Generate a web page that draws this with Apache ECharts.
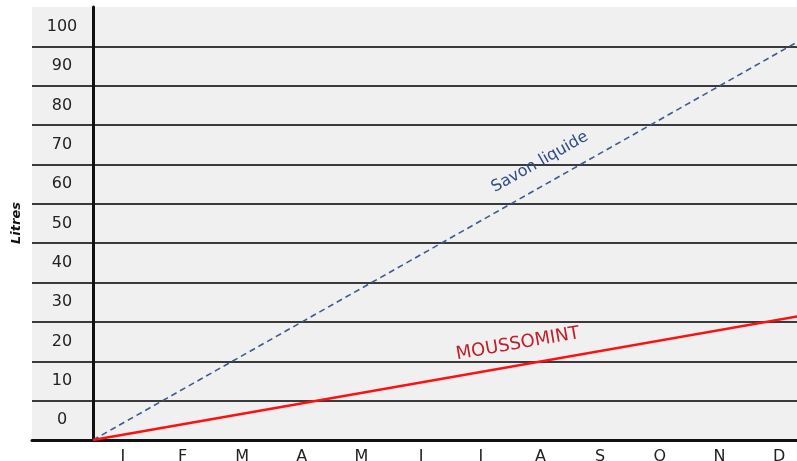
<!DOCTYPE html>
<html>
<head>
<meta charset="utf-8">
<script src="https://cdn.jsdelivr.net/npm/echarts@6/dist/echarts.min.js"></script>
<style>
  html, body { margin: 0; padding: 0; background: #fff; }
  #chart { width: 797px; height: 461px; }
</style>
</head>
<body>
<div id="chart"></div>
<script>
// data
var months = ['J', 'F', 'M', 'A', 'M', 'J', 'J', 'A', 'S', 'O', 'N', 'D']
var yLabels = ['0', '10', '20', '30', '40', '50', '60', '70', '80', '90', '100']
// [month position, litres] from start of January to end of December
var savonLiquide = [[0, 0], [12, 102.8]]
var moussomint = [[0, 0], [12, 31.9]]

var chart = echarts.init(document.getElementById('chart'))
var font = 'DejaVu Sans'

var option = {
    animation: false,
    grid: [
        // background and long gridlines
        { left: 32, right: 0, top: 7, bottom: 21, outerBoundsMode: 'none', containLabel: false,
          show: true, backgroundColor: '#f0f0f0', borderWidth: 0 },
        // plot area (runs past the right edge, December is cut)
        { left: 93, width: 716, top: 7, bottom: 21, outerBoundsMode: 'none', containLabel: false }
    ],
    xAxis: [
        {
            gridIndex: 0, type: 'value', min: 0, max: 1,
            axisLine: { show: true, lineStyle: { color: '#111', width: 3 } },
            axisTick: { show: false }, axisLabel: { show: false }, splitLine: { show: false }
        },
        {
            gridIndex: 1, type: 'category', data: months, boundaryGap: true,
            axisLine: { show: false }, axisTick: { show: false },
            axisLabel: { color: '#222', fontFamily: font, fontSize: 16, margin: 9 }
        },
        {
            gridIndex: 1, type: 'value', min: 0, max: 12, show: false
        }
    ],
    yAxis: [
        {
            gridIndex: 0, type: 'value', min: 0, max: 110, interval: 10,
            axisLine: { show: false }, axisTick: { show: false }, axisLabel: { show: false },
            splitLine: { show: true, showMaxLine: false, lineStyle: { color: '#3a3a3a', width: 2 } }
        },
        {
            gridIndex: 1, type: 'category', data: yLabels, boundaryGap: true,
            axisLine: { show: true, lineStyle: { color: '#111', width: 3 } },
            axisTick: { show: false }, splitLine: { show: false },
            axisLabel: { color: '#222', fontFamily: font, fontSize: 16, align: 'center', margin: 31 }
        },
        {
            gridIndex: 1, type: 'value', min: 0, max: 110, show: false
        }
    ],
    series: [
        {
            name: 'Savon liquide', type: 'line', data: savonLiquide,
            xAxisIndex: 2, yAxisIndex: 2, symbol: 'none',
            lineStyle: { color: '#3e5a90', width: 1.6, type: [6, 4] }
        },
        {
            name: 'MOUSSOMINT', type: 'line', data: moussomint,
            xAxisIndex: 2, yAxisIndex: 2, symbol: 'none',
            lineStyle: { color: '#ff1010', width: 2.6 }
        }
    ]
}
chart.setOption(option)

// put the line names next to their lines
function lineLabel(pt, angle, text, color, size) {
    var p = chart.convertToPixel({ xAxisIndex: 2, yAxisIndex: 2 }, pt)
    return {
        type: 'text', x: p[0], y: p[1], rotation: angle * Math.PI / 180,
        style: { text: text, fill: color, font: size + 'px "DejaVu Sans"', align: 'center', verticalAlign: 'middle' }
    }
}
chart.setOption({
    graphic: [
        lineLabel([7.49, 70.6], 29.4, 'Savon liquide', '#2e4c86', 16),
        lineLabel([7.12, 24.4], 9.9, 'MOUSSOMINT', '#c0202a', 18),
        {
            type: 'text', x: 17, y: 223, rotation: Math.PI / 2,
            style: { text: 'Litres', fill: '#111', font: 'italic bold 13px "DejaVu Sans"', align: 'center', verticalAlign: 'middle' }
        }
    ]
})
</script>
</body>
</html>
